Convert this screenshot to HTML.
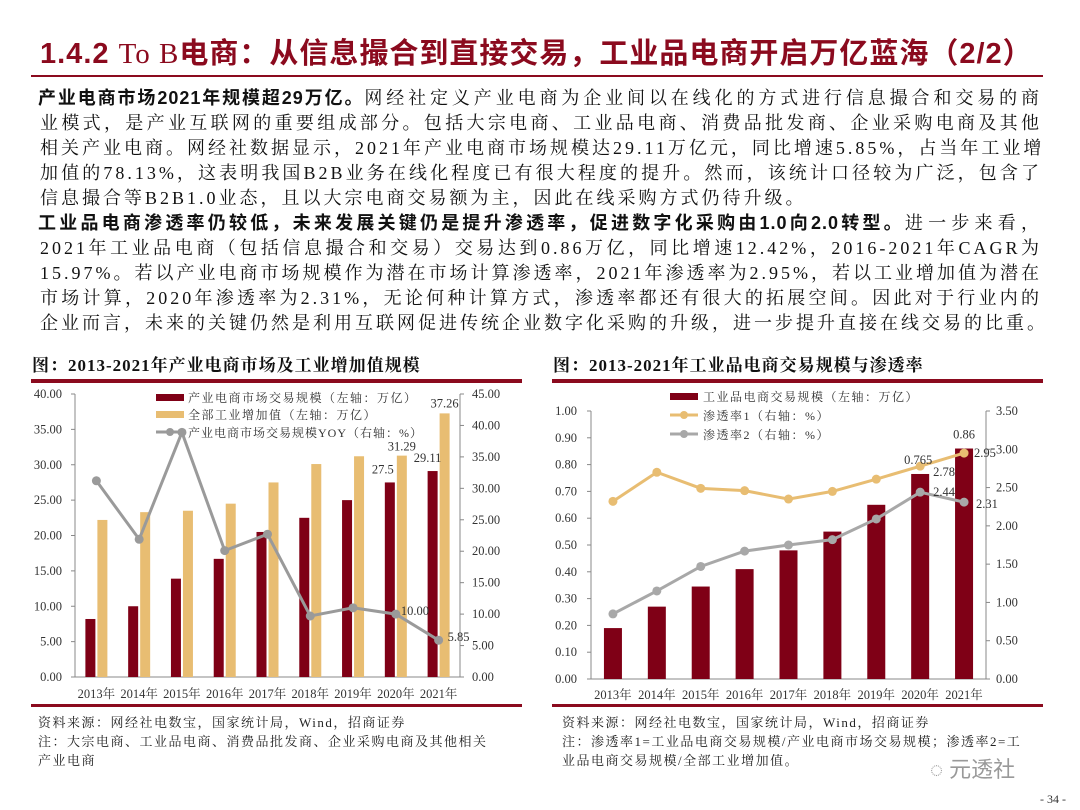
<!DOCTYPE html>
<html><head><meta charset="utf-8">
<style>
body{margin:0;width:1080px;height:810px;background:#fff;position:relative;overflow:hidden;font-family:"Liberation Serif","Noto Serif CJK SC",serif;}
.abs{position:absolute;white-space:nowrap;}
#title{left:40px;top:30px;font-size:29px;font-weight:bold;color:#8b0a1e;font-family:"Liberation Sans","Noto Sans CJK SC",sans-serif;letter-spacing:1px;}
#title .ser{font-family:"Liberation Serif","Noto Serif CJK SC",serif;font-weight:normal;}
.rule{position:absolute;background:#8b0a1e;}
.body{left:38px;width:1004px;font-size:18px;letter-spacing:3px;color:#111;text-align:justify;text-align-last:justify;line-height:25px;}
.body b{font-family:"Liberation Sans","Noto Sans CJK SC",sans-serif;letter-spacing:1px;}
.ct{font-size:17px;font-weight:bold;color:#111;letter-spacing:1px;}
.note{font-size:13px;color:#222;line-height:19px;letter-spacing:1.5px;}
svg text{font-family:"Liberation Serif","Noto Serif CJK SC",serif;}
</style></head><body>
<div id="title" class="abs">1.4.2 <span class="ser">To B</span>电商：从信息撮合到直接交易，工业品电商开启万亿蓝海（2/2）</div>
<div class="rule" style="left:31px;top:75px;width:1012px;height:2px;"></div>

<div class="abs body" style="top:86px"><b>产业电商市场2021年规模超29万亿。</b>网经社定义产业电商为企业间以在线化的方式进行信息撮合和交易的商</div>
<div class="abs body" style="top:111px;left:40px;width:1002px">业模式，是产业互联网的重要组成部分。包括大宗电商、工业品电商、消费品批发商、企业采购电商及其他</div>
<div class="abs body" style="top:136px;left:40px;width:1002px">相关产业电商。网经社数据显示，2021年产业电商市场规模达29.11万亿元，同比增速5.85%，占当年工业增</div>
<div class="abs body" style="top:161px;left:40px;width:1002px">加值的78.13%，这表明我国B2B业务在线化程度已有很大程度的提升。然而，该统计口径较为广泛，包含了</div>
<div class="abs body" style="top:186px;left:40px;width:760px;text-align-last:left">信息撮合等B2B1.0业态，且以大宗电商交易额为主，因此在线采购方式仍待升级。</div>
<div class="abs body" style="top:211px"><b>工业品电商渗透率仍较低，未来发展关键仍是提升渗透率，促进数字化采购由1.0向2.0转型。</b>进一步来看，</div>
<div class="abs body" style="top:236px;left:40px;width:1002px">2021年工业品电商（包括信息撮合和交易）交易达到0.86万亿，同比增速12.42%，2016-2021年CAGR为</div>
<div class="abs body" style="top:261px;left:40px;width:1002px">15.97%。若以产业电商市场规模作为潜在市场计算渗透率，2021年渗透率为2.95%，若以工业增加值为潜在</div>
<div class="abs body" style="top:286px;left:40px;width:1002px">市场计算，2020年渗透率为2.31%，无论何种计算方式，渗透率都还有很大的拓展空间。因此对于行业内的</div>
<div class="abs body" style="top:311px;left:40px;width:1002px">企业而言，未来的关键仍然是利用互联网促进传统企业数字化采购的升级，进一步提升直接在线交易的比重。</div>

<div class="abs ct" style="left:32px;top:351px">图：2013-2021年产业电商市场及工业增加值规模</div>
<div class="abs ct" style="left:553px;top:351px">图：2013-2021年工业品电商交易规模与渗透率</div>
<div class="rule" style="left:31px;top:379px;width:491px;height:4px;"></div>
<div class="rule" style="left:552px;top:379px;width:491px;height:4px;"></div>
<div class="rule" style="left:31px;top:704px;width:491px;height:3px;"></div>
<div class="rule" style="left:552px;top:704px;width:491px;height:3px;"></div>

<svg id="chart" width="1080" height="810" style="position:absolute;left:0;top:0"></svg>

<div class="abs note" style="left:38px;top:713px">资料来源：网经社电数宝，国家统计局，Wind，招商证券<br>注：大宗电商、工业品电商、消费品批发商、企业采购电商及其他相关<br>产业电商</div>
<div class="abs note" style="left:562px;top:713px">资料来源：网经社电数宝，国家统计局，Wind，招商证券<br>注：渗透率1=工业品电商交易规模/产业电商市场交易规模；渗透率2=工<br>业品电商交易规模/全部工业增加值。</div>
<div class="abs" style="left:930px;top:752px;font-size:22px;color:#999;font-family:'Liberation Sans','Noto Sans CJK SC',sans-serif">◌ 元透社</div>
<div class="abs" style="left:1040px;top:792px;font-size:12px;color:#333">- 34 -</div>

<script>
const years=["2013年","2014年","2015年","2016年","2017年","2018年","2019年","2020年","2021年"];
const ecomScale=[8.2,10,13.9,16.7,20.5,22.5,25,27.5,29.11];
const industryValue=[22.2,23.3,23.5,24.5,27.5,30.1,31.2,31.29,37.26];
const yoy=[31.2,21.9,38.9,20.1,22.7,9.7,11.0,10.0,5.85];
const leftTicksL=[0,5,10,15,20,25,30,35,40];
const leftTicksR=[0,5,10,15,20,25,30,35,40,45];
const indScale=[0.19,0.27,0.345,0.41,0.48,0.55,0.65,0.765,0.86];
const pen1=[2.32,2.70,2.49,2.46,2.35,2.45,2.61,2.78,2.95];
const pen2=[0.85,1.15,1.47,1.67,1.75,1.82,2.09,2.44,2.31];
const rightTicksL=[0,0.1,0.2,0.3,0.4,0.5,0.6,0.7,0.8,0.9,1.0];
const rightTicksR=[0,0.5,1,1.5,2,2.5,3,3.5];

const svg=document.getElementById('chart');
const NS='http://www.w3.org/2000/svg';
function mk(tag,attrs,parent){const e=document.createElementNS(NS,tag);for(const k in attrs)e.setAttribute(k,attrs[k]);(parent||svg).appendChild(e);return e;}
function txt(x,y,s,anchor,size,fill,ls){const t=mk('text',{x:x,y:y,'text-anchor':anchor||'start','font-size':size||12,fill:fill||'#222'});if(ls)t.setAttribute('letter-spacing',ls);t.textContent=s;return t;}

// ---------- Left chart ----------
(function(){
  const x0=75,x1=460,yb=677,yt=394,maxL=40,maxR=45;
  const band=(x1-x0)/years.length;
  const cx=i=>x0+band*(i+0.5);
  const yL=v=>yb-(v/maxL)*(yb-yt);
  const yR=v=>yb-(v/maxR)*(yb-yt);
  const g=mk('g',{});
  
  
  mk('line',{x1:x0,y1:yt,x2:x0,y2:yb,stroke:'#888'},g);
  mk('line',{x1:x0,y1:yb,x2:x1,y2:yb,stroke:'#888'},g);
  mk('line',{x1:x1,y1:yt,x2:x1,y2:yb,stroke:'#888'},g);
  leftTicksL.forEach(v=>{mk('line',{x1:x0-4,y1:yL(v),x2:x0,y2:yL(v),stroke:'#888'},g);const t=txt(62,yL(v)+4,v.toFixed(2),'end',12.5,'#333');
    
    });
  leftTicksR.forEach(v=>{mk('line',{x1:x1,y1:yR(v),x2:x1+4,y2:yR(v),stroke:'#888'},g);const t=txt(472,yR(v)+4,v.toFixed(2),'start',12.5,'#333');
    
    });
  years.forEach((y,i)=>{const t=txt(cx(i),698,y,'middle',12.5,'#333');
    
    });
  ecomScale.forEach((v,i)=>{const r=mk('rect',{x:cx(i)-11,y:yL(v),width:10,height:yb-yL(v),fill:'#7f0016'},g);
    
    });
  industryValue.forEach((v,i)=>{const r=mk('rect',{x:cx(i)+1,y:yL(v),width:10,height:yb-yL(v),fill:'#e8bd72'},g);
    
    });
  mk('polyline',{points:yoy.map((v,i)=>cx(i)+','+yR(v)).join(' '),fill:'none',stroke:'#9a9a9a','stroke-width':3},g);
  yoy.forEach((v,i)=>{const c=mk('circle',{cx:cx(i),cy:yR(v),r:4.5,fill:'#9a9a9a'},g);
    
    });
  txt(cx(7)-13,yL(ecomScale[7])-9,'27.5','middle',12.5,'#333');
  txt(cx(8)-11,yL(ecomScale[8])-9,'29.11','middle',12.5,'#333');
  txt(cx(7)+6,yL(industryValue[7])-5,'31.29','middle',12.5,'#333');
  txt(cx(8)+6,yL(industryValue[8])-6,'37.26','middle',12.5,'#333');
  txt(cx(7)+5,yR(yoy[7])+1,'10.00','start',12.5,'#333');
  txt(cx(8)+9,yR(yoy[8])+1,'5.85','start',12.5,'#333');
  // legend
  mk('rect',{x:156,y:394,width:28,height:7,fill:'#7f0016'},g);
  txt(188,402,'产业电商市场交易规模（左轴：万亿）','start',12,'#333',1.5);
  mk('rect',{x:156,y:411,width:28,height:7,fill:'#e8bd72'},g);
  txt(188,419,'全部工业增加值（左轴：万亿）','start',12,'#333',1.5);
  mk('line',{x1:156,y1:432,x2:184,y2:432,stroke:'#9a9a9a','stroke-width':3},g);
  mk('circle',{cx:170,cy:432,r:4,fill:'#9a9a9a'},g);
  txt(188,437,'产业电商市场交易规模YOY（右轴：%）','start',12,'#333',1);
})();

// ---------- Right chart ----------
(function(){
  const x0=591,x1=986,yb=679,yt=411,maxL=1.0,maxR=3.5;
  const band=(x1-x0)/years.length;
  const cx=i=>x0+band*(i+0.5);
  const yL=v=>yb-(v/maxL)*(yb-yt);
  const yR=v=>yb-(v/maxR)*(yb-yt);
  const g=mk('g',{});
  
  
  mk('line',{x1:x0,y1:yt,x2:x0,y2:yb,stroke:'#888'},g);
  mk('line',{x1:x0,y1:yb,x2:x1,y2:yb,stroke:'#888'},g);
  mk('line',{x1:x1,y1:yt,x2:x1,y2:yb,stroke:'#888'},g);
  rightTicksL.forEach(v=>{mk('line',{x1:x0-4,y1:yL(v),x2:x0,y2:yL(v),stroke:'#888'},g);const t=txt(577,yL(v)+4,v.toFixed(2),'end',12.5,'#333');
    
    });
  rightTicksR.forEach(v=>{mk('line',{x1:x1,y1:yR(v),x2:x1+4,y2:yR(v),stroke:'#888'},g);const t=txt(996,yR(v)+4,v.toFixed(2),'start',12.5,'#333');
    
    });
  years.forEach((y,i)=>{const t=txt(cx(i),699,y,'middle',12.5,'#333');
    
    });
  indScale.forEach((v,i)=>{const r=mk('rect',{x:cx(i)-9,y:yL(v),width:18,height:yb-yL(v),fill:'#7f0016'},g);
    
    });
  mk('polyline',{points:pen1.map((v,i)=>cx(i)+','+yR(v)).join(' '),fill:'none',stroke:'#e8bd72','stroke-width':3},g);
  pen1.forEach((v,i)=>{const c=mk('circle',{cx:cx(i),cy:yR(v),r:4.5,fill:'#e8bd72'},g);
    
    });
  mk('polyline',{points:pen2.map((v,i)=>cx(i)+','+yR(v)).join(' '),fill:'none',stroke:'#a8a8a8','stroke-width':3},g);
  pen2.forEach((v,i)=>{const c=mk('circle',{cx:cx(i),cy:yR(v),r:4.5,fill:'#a8a8a8'},g);
    
    });
  txt(cx(7)-2,yL(indScale[7])-10,'0.765','middle',12.5,'#333');
  txt(cx(8),yL(indScale[8])-10,'0.86','middle',12.5,'#333');
  txt(cx(7)+13,yR(pen1[7])+10,'2.78','start',12.5,'#333');
  txt(cx(8)+10,yR(pen1[8])+4,'2.95','start',12.5,'#333');
  txt(cx(7)+13,yR(pen2[7])+4,'2.44','start',12.5,'#333');
  txt(cx(8)+12,yR(pen2[8])+6,'2.31','start',12.5,'#333');
  // legend
  mk('rect',{x:670,y:393,width:28,height:7,fill:'#7f0016'},g);
  txt(703,401,'工业品电商交易规模（左轴：万亿）','start',12,'#333',1.5);
  mk('line',{x1:670,y1:415,x2:698,y2:415,stroke:'#e8bd72','stroke-width':3},g);
  mk('circle',{cx:684,cy:415,r:4,fill:'#e8bd72'},g);
  txt(703,420,'渗透率1（右轴：%）','start',12,'#333',1.5);
  mk('line',{x1:670,y1:434,x2:698,y2:434,stroke:'#a8a8a8','stroke-width':3},g);
  mk('circle',{cx:684,cy:434,r:4,fill:'#a8a8a8'},g);
  txt(703,439,'渗透率2（右轴：%）','start',12,'#333',1.5);
})();
</script>
</body></html>
